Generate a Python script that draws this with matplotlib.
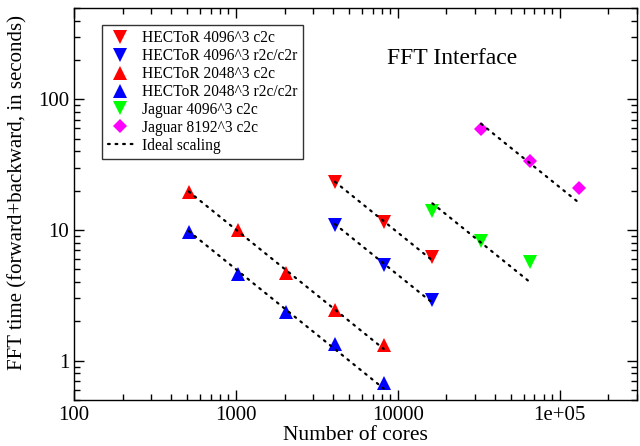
import matplotlib
matplotlib.use("Agg")
import matplotlib.pyplot as plt
from matplotlib.ticker import LogLocator, FixedLocator, FixedFormatter, NullFormatter
import numpy as np

plt.rcParams['font.family'] = ['Liberation Serif', 'DejaVu Serif']

# Data
h4096_c2c_cores = [4096, 8192, 16384]
h4096_c2c_time = [23.3, 11.6, 6.2]
h4096_r2c_cores = [4096, 8192, 16384]
h4096_r2c_time = [11.0, 5.36, 2.94]
h2048_c2c_cores = [512, 1024, 2048, 4096, 8192]
h2048_c2c_time = [19.4, 10.0, 4.72, 2.45, 1.31]
h2048_r2c_cores = [512, 1024, 2048, 4096, 8192]
h2048_r2c_time = [9.6, 4.6, 2.38, 1.35, 0.67]
j4096_c2c_cores = [16384, 32768, 65536]
j4096_c2c_time = [14.0, 8.3, 5.7]
j8192_c2c_cores = [32768, 65536, 131072]
j8192_c2c_time = [59.0, 34.0, 20.8]

# Ideal scaling: (first cores, last cores, start time)
ideal_start_cores = [512, 512, 4096, 4096, 16384, 32768]
ideal_end_cores = [8192, 8192, 16384, 16384, 65536, 131072]
ideal_start_time = [19.7, 9.8, 23.4, 11.1, 16.0, 65.0]

x_ticks = [100, 1000, 10000, 100000]
x_ticklabels = ["100", "1000", "10000", "1e+05"]
y_ticks = [1, 10, 100]
y_ticklabels = ["1", "10", "100"]

fig = plt.figure(figsize=(6.4, 4.46), dpi=100)
ax = fig.add_axes([0.1156, 0.103, 0.995 - 0.1156, 0.982 - 0.103])

ms_tri = 9.5
series = [
    ("HECToR 4096^3 c2c", h4096_c2c_cores, h4096_c2c_time, 'v', '#ff0000', ms_tri),
    ("HECToR 4096^3 r2c/c2r", h4096_r2c_cores, h4096_r2c_time, 'v', '#0000ff', ms_tri),
    ("HECToR 2048^3 c2c", h2048_c2c_cores, h2048_c2c_time, '^', '#ff0000', ms_tri),
    ("HECToR 2048^3 r2c/c2r", h2048_r2c_cores, h2048_r2c_time, '^', '#0000ff', ms_tri),
    ("Jaguar 4096^3 c2c", j4096_c2c_cores, j4096_c2c_time, 'v', '#00ff00', ms_tri),
    ("Jaguar 8192^3 c2c", j8192_c2c_cores, j8192_c2c_time, 'D', '#ff00ff', 6.8),
]
for label, xs, ys, m, c, ms in series:
    ax.plot(xs, ys, linestyle='none', marker=m, color=c, markersize=ms,
            markeredgewidth=0, label=label, zorder=3)

for i, (x0, x1, t0) in enumerate(zip(ideal_start_cores, ideal_end_cores, ideal_start_time)):
    xs = np.array([x0, x1], dtype=float)
    ys = t0 * x0 / xs
    ax.plot(xs, ys, color='black', linestyle=(0, (0.8, 2.6)), linewidth=1.6,
            dash_capstyle='round', zorder=4,
            label="Ideal scaling" if i == 0 else None)

ax.set_xscale('log')
ax.set_yscale('log')
ax.set_xlim(100, 3e5)
ax.set_ylim(0.5, 500)

ax.xaxis.set_major_locator(FixedLocator(x_ticks))
ax.xaxis.set_major_formatter(FixedFormatter(x_ticklabels))
ax.yaxis.set_major_locator(FixedLocator(y_ticks))
ax.yaxis.set_major_formatter(FixedFormatter(y_ticklabels))
ax.xaxis.set_minor_locator(LogLocator(base=10, subs=np.arange(2, 10), numticks=20))
ax.yaxis.set_minor_locator(LogLocator(base=10, subs=np.arange(2, 10), numticks=20))
ax.xaxis.set_minor_formatter(NullFormatter())
ax.yaxis.set_minor_formatter(NullFormatter())

ax.tick_params(which='both', direction='in', top=True, right=True, width=1.0, labelsize=15)
ax.tick_params(which='major', length=7.5)
ax.tick_params(which='minor', length=4.2)
ax.tick_params(axis='x', pad=4)
for s in ax.spines.values():
    s.set_linewidth(1.0)

ax.set_xlabel("Number of cores", fontsize=15.5, va='center')
ax.xaxis.set_label_coords(0.5, -0.09)
ax.set_ylabel("FFT time (forward+backward, in seconds)", fontsize=15, va='center')
ax.yaxis.set_label_coords(-0.099, 0.53)

ax.text(452, 446 - 58, "FFT Interface", transform=None, fontsize=17, ha='center', va='center')

leg = ax.legend(loc='upper left', bbox_to_anchor=(102.3 / 640, 1 - 25 / 446),
                bbox_transform=fig.transFigure, fontsize=11.2, frameon=True,
                fancybox=False, edgecolor='black', borderpad=0.35,
                labelspacing=0.12, handlelength=1.6, handletextpad=0.6,
                borderaxespad=0, markerscale=1.0)
leg.get_frame().set_linewidth(1.0)

fig.savefig("out.png", dpi=100)
